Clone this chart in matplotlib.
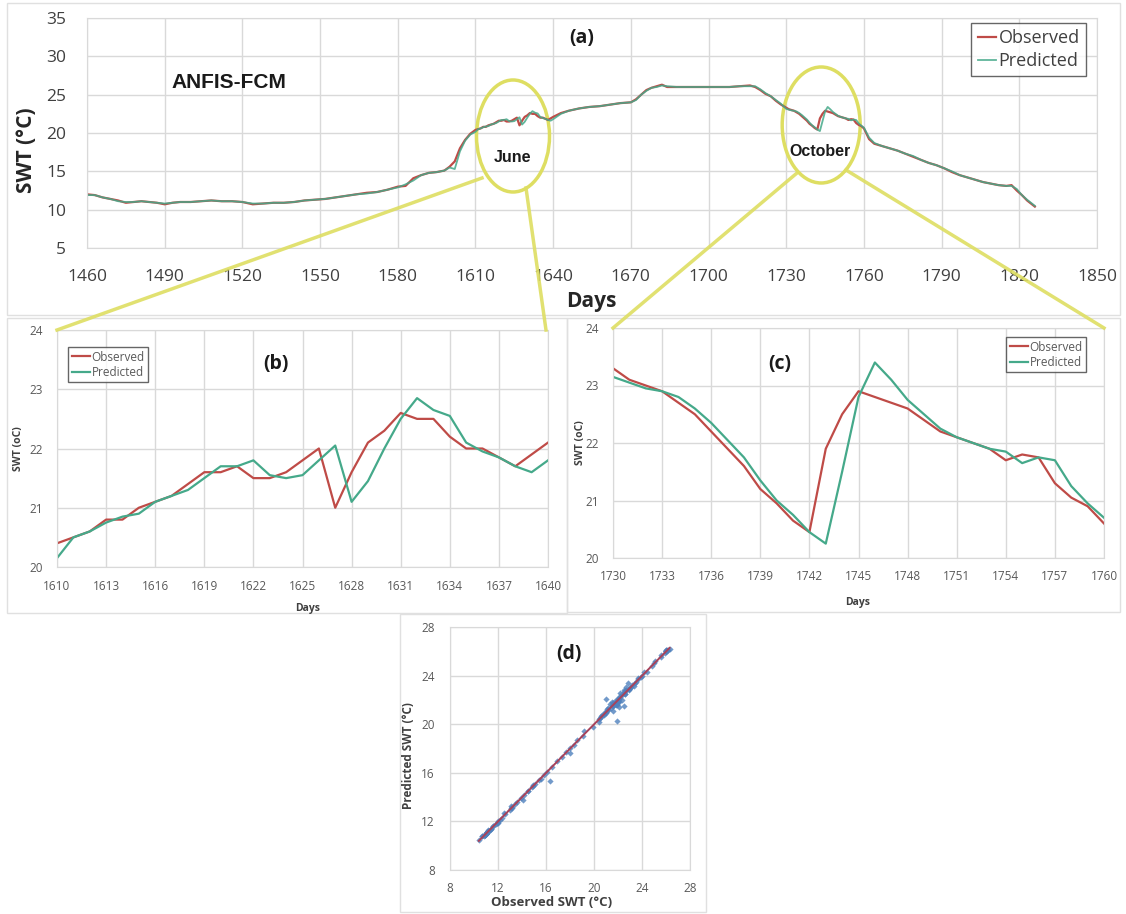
import numpy as np
import matplotlib.pyplot as plt
from matplotlib.patches import Ellipse, Rectangle
from matplotlib.lines import Line2D

plt.rcParams['font.family'] = ['Open Sans', 'DejaVu Sans']

# daily series, sampled outside the two zoom windows
days_coarse = [1460, 1463, 1466, 1469, 1472, 1475, 1478, 1481, 1484, 1487, 1490, 1493, 1496, 1500,
               1504, 1508, 1512, 1516, 1520, 1524, 1528, 1532, 1536, 1540, 1544, 1548, 1552, 1556,
               1560, 1564, 1568, 1572, 1576, 1580, 1583, 1586, 1589, 1592, 1595, 1598, 1600, 1602,
               1604, 1606, 1608,
               1643, 1646, 1650, 1654, 1658, 1662, 1666, 1670, 1672, 1674, 1676, 1678, 1680, 1682,
               1684, 1688, 1692, 1696, 1700, 1704, 1708, 1712, 1716, 1718, 1720, 1722, 1724, 1726,
               1728,
               1762, 1764, 1767, 1770, 1773, 1776, 1779, 1782, 1785, 1788, 1791, 1794, 1797, 1800,
               1803, 1806, 1809, 1812, 1815, 1817, 1819, 1821, 1823, 1826]
obs_coarse = [12.0, 11.9, 11.6, 11.4, 11.2, 10.9, 11.0, 11.1, 11.0, 10.9, 10.7, 10.9, 11.0, 11.0,
              11.1, 11.2, 11.1, 11.1, 11.0, 10.7, 10.8, 10.9, 10.9, 11.0, 11.2, 11.3, 11.4, 11.6,
              11.8, 12.0, 12.2, 12.3, 12.6, 13.0, 13.1, 14.1, 14.5, 14.8, 14.9, 15.1, 15.6, 16.3,
              18.0, 19.1, 19.9,
              22.6, 22.9, 23.2, 23.4, 23.5, 23.7, 23.9, 24.0, 24.4, 25.0, 25.6, 25.9, 26.1, 26.3,
              26.0, 26.0, 26.0, 26.0, 26.0, 26.0, 26.0, 26.1, 26.2, 26.0, 25.6, 25.1, 24.8, 24.2,
              23.7,
              19.2, 18.6, 18.3, 18.0, 17.7, 17.3, 16.9, 16.5, 16.1, 15.8, 15.4, 14.9, 14.5, 14.2,
              13.9, 13.6, 13.4, 13.2, 13.1, 13.2, 12.5, 11.9, 11.2, 10.4]
pred_coarse = [11.9, 11.9, 11.6, 11.4, 11.1, 11.0, 11.0, 11.1, 11.0, 10.9, 10.8, 10.9, 11.0, 11.0,
               11.1, 11.2, 11.1, 11.1, 11.0, 10.8, 10.8, 10.9, 10.9, 11.0, 11.2, 11.3, 11.4, 11.6,
               11.8, 12.0, 12.1, 12.3, 12.6, 12.9, 13.3, 13.8, 14.5, 14.8, 14.9, 15.1, 15.5, 15.3,
               17.6, 19.0, 19.8,
               22.5, 22.9, 23.2, 23.4, 23.5, 23.7, 23.9, 24.0, 24.3, 25.0, 25.5, 25.9, 26.0, 26.2,
               26.1, 26.0, 26.0, 26.0, 26.0, 26.0, 26.0, 26.1, 26.1, 26.1, 25.7, 25.2, 24.8, 24.3,
               23.8,
               19.4, 18.7, 18.3, 18.0, 17.7, 17.3, 17.0, 16.5, 16.1, 15.8, 15.4, 15.0, 14.5, 14.2,
               13.9, 13.6, 13.4, 13.2, 13.1, 13.1, 12.7, 11.9, 11.3, 10.5]

# June window (b)
days_jun = list(range(1610, 1641))
obs_jun = [20.4, 20.5, 20.6, 20.8, 20.8, 21.0, 21.1, 21.2, 21.4, 21.6, 21.6, 21.7, 21.5, 21.5,
           21.6, 21.8, 22.0, 21.0, 21.6, 22.1, 22.3, 22.6, 22.5, 22.5, 22.2, 22.0, 22.0, 21.85,
           21.7, 21.9, 22.1]
pred_jun = [20.15, 20.5, 20.6, 20.75, 20.85, 20.9, 21.1, 21.2, 21.3, 21.5, 21.7, 21.7, 21.8,
            21.55, 21.5, 21.55, 21.8, 22.05, 21.1, 21.45, 22.0, 22.5, 22.85, 22.65, 22.55, 22.1,
            21.95, 21.85, 21.7, 21.6, 21.8]

# October window (c)
days_oct = list(range(1730, 1761))
obs_oct = [23.3, 23.1, 23.0, 22.9, 22.7, 22.5, 22.2, 21.9, 21.6, 21.2, 20.95, 20.65, 20.45, 21.9,
           22.5, 22.9, 22.8, 22.7, 22.6, 22.4, 22.2, 22.1, 22.0, 21.9, 21.7, 21.8, 21.75, 21.3,
           21.05, 20.9, 20.6]
pred_oct = [23.15, 23.05, 22.95, 22.9, 22.8, 22.6, 22.35, 22.05, 21.75, 21.35, 21.0, 20.75, 20.45,
            20.25, 21.5, 22.8, 23.4, 23.1, 22.75, 22.5, 22.25, 22.1, 22.0, 21.9, 21.85, 21.65,
            21.75, 21.7, 21.25, 20.95, 20.7]

OBS_C = '#bf4b47'
PRED_C = '#45a98a'
YEL = '#dede62'
GRID = '#d9d9d9'

W, H = 1126, 914


def rect(l, t, r, b):
    return [l / W, 1 - b / H, (r - l) / W, (b - t) / H]


def fx(x):
    return x / W


def fy(y):
    return 1 - y / H


def excel_style(ax, size, color, xpad, ypad):
    ax.grid(True, color=GRID, lw=1)
    ax.set_axisbelow(True)
    for s in ax.spines.values():
        s.set_color(GRID)
    ax.tick_params(length=0, labelsize=size, labelcolor=color)
    ax.tick_params(axis='x', pad=xpad)
    ax.tick_params(axis='y', pad=ypad)


# full series = coarse samples + daily windows
days_all = np.array(days_coarse + days_jun + days_oct)
obs_all = np.array(obs_coarse + obs_jun + obs_oct)
pred_all = np.array(pred_coarse + pred_jun + pred_oct)
order = np.argsort(days_all)
days_all, obs_all, pred_all = days_all[order], obs_all[order], pred_all[order]

fig = plt.figure(figsize=(W / 100, H / 100), dpi=100)

# chart area borders
for l, t, r, b in [(7, 3, 1120, 315), (7, 318, 567, 613), (567, 318, 1120, 612), (400, 614, 706, 912)]:
    fig.patches.append(Rectangle((fx(l), fy(b)), (r - l) / W, (b - t) / H, transform=fig.transFigure,
                                 fill=False, edgecolor='#e0e0e0', lw=1))

# (a) whole record
ax = fig.add_axes(rect(87, 18, 1097, 248))
ax.plot(days_all, obs_all, color=OBS_C, lw=1.6, label='Observed')
ax.plot(days_all, pred_all, color=PRED_C, lw=1.3, label='Predicted', alpha=0.85)
ax.set_xlim(1460, 1850)
ax.set_ylim(5, 35)
ax.set_xticks(range(1460, 1851, 30))
ax.set_yticks(range(5, 36, 5))
excel_style(ax, 12.5, '#404040', 15, 15)
leg = ax.legend(loc='upper right', bbox_to_anchor=(fx(1086), fy(23)), bbox_transform=fig.transFigure,
                borderaxespad=0, fancybox=False, edgecolor='#404040', fontsize=13, handlelength=1.0,
                handletextpad=0.15, borderpad=0.35, labelspacing=0.25)
leg.get_frame().set_linewidth(1)
for t in leg.get_texts():
    t.set_color('#404040')

ax.add_patch(Ellipse((1624.5, 35 - (136 - 18) / 7.667), 73 / 2.59, 112 / 7.667,
                     fill=False, edgecolor=YEL, lw=2.5))
ax.add_patch(Ellipse((1743.5, 35 - (125 - 18) / 7.667), 78 / 2.59, 116 / 7.667,
                     fill=False, edgecolor=YEL, lw=2.5))

fig.text(fx(229), fy(82), 'ANFIS-FCM', family='Liberation Sans', fontweight='bold', fontsize=15,
         ha='center', va='center', color='#1a1a1a')
fig.text(fx(582), fy(38), '(a)', fontweight='bold', fontsize=14, ha='center', va='center', color='#1a1a1a')
fig.text(fx(512), fy(157), 'June', family='Liberation Sans', fontweight='bold', fontsize=11.5,
         ha='center', va='center', color='#1a1a1a')
fig.text(fx(820), fy(151), 'October', family='Liberation Sans', fontweight='bold', fontsize=11.5,
         ha='center', va='center', color='#1a1a1a')
fig.text(fx(27), fy(150), 'SWT (°C)', fontweight='bold', fontsize=15, rotation=90,
         ha='center', va='center', color='#262626')
fig.text(fx(591), fy(302), 'Days', fontweight='bold', fontsize=15, ha='center', va='center', color='#262626')

# zoom connectors
for (x0, y0), (x1, y1) in [((482, 178), (57, 330)), ((526, 188), (546, 330)),
                           ((797, 173), (613, 328)), ((846, 170), (1104, 328))]:
    fig.lines.append(Line2D([fx(x0), fx(x1)], [fy(y0), fy(y1)], transform=fig.transFigure,
                            color=YEL, lw=2.5, alpha=0.9))


def zoom_panel(box, days, obs, pred, ticks, tag, tagxy, legbox, ylab_x, xlab_xy):
    a = fig.add_axes(rect(*box))
    a.plot(days, obs, color=OBS_C, lw=1.6, label='Observed', solid_joinstyle='round')
    a.plot(days, pred, color=PRED_C, lw=1.6, label='Predicted', solid_joinstyle='round')
    a.set_xlim(days[0], days[-1])
    a.set_ylim(20, 24)
    a.set_xticks(ticks)
    a.set_yticks([20, 21, 22, 23, 24])
    excel_style(a, 8.5, '#595959', 9, 10)
    lg = a.legend(loc='upper left', bbox_to_anchor=(fx(legbox[0]), fy(legbox[1])),
                  bbox_transform=fig.transFigure, borderaxespad=0, fancybox=False,
                  edgecolor='#404040', fontsize=8.5, handlelength=1.6, handletextpad=0.1,
                  borderpad=0.3, labelspacing=0.2)
    for t in lg.get_texts():
        t.set_color('#595959')
    fig.text(fx(tagxy[0]), fy(tagxy[1]), tag, fontweight='bold', fontsize=14,
             ha='center', va='center', color='#1a1a1a')
    fig.text(fx(ylab_x), fy((box[1] + box[3]) / 2), 'SWT (oC)', fontweight='bold', fontsize=7.5,
             rotation=90, ha='center', va='center', color='#404040')
    fig.text(fx(xlab_xy[0]), fy(xlab_xy[1]), 'Days', fontweight='bold', fontsize=7.5,
             ha='center', va='center', color='#404040')
    return a


zoom_panel((57, 330, 548, 567), days_jun, obs_jun, pred_jun, range(1610, 1641, 3), '(b)', (276, 364),
           (68, 347), 18, (308, 609))
zoom_panel((613, 328, 1104, 558), days_oct, obs_oct, pred_oct, range(1730, 1761, 3), '(c)', (780, 364),
           (1006, 337), 580, (858, 603))

# (d) scatter of predicted against observed
axd = fig.add_axes(rect(450, 627, 690, 870))
axd.scatter(obs_all, pred_all, marker='D', s=10, color='#4f81bd', alpha=0.8, zorder=3, linewidths=0)
k, c0 = np.polyfit(obs_all, pred_all, 1)
xs = np.array([obs_all.min(), obs_all.max()])
axd.plot(xs, k * xs + c0, color='#a8425a', lw=1.4, zorder=4)
axd.set_xlim(8, 28)
axd.set_ylim(8, 28)
axd.set_xticks(range(8, 29, 4))
axd.set_yticks(range(8, 29, 4))
excel_style(axd, 8.5, '#595959', 9, 11)
fig.text(fx(569), fy(654), '(d)', fontweight='bold', fontsize=14, ha='center', va='center', color='#1a1a1a')
fig.text(fx(409), fy(756), 'Predicted SWT (°C)', fontweight='bold', fontsize=8.5, rotation=90,
         ha='center', va='center', color='#404040')
fig.text(fx(552), fy(903), 'Observed SWT (°C)', fontweight='bold', fontsize=9.5,
         ha='center', va='center', color='#404040')

fig.savefig('out.png', dpi=100, facecolor='white')
